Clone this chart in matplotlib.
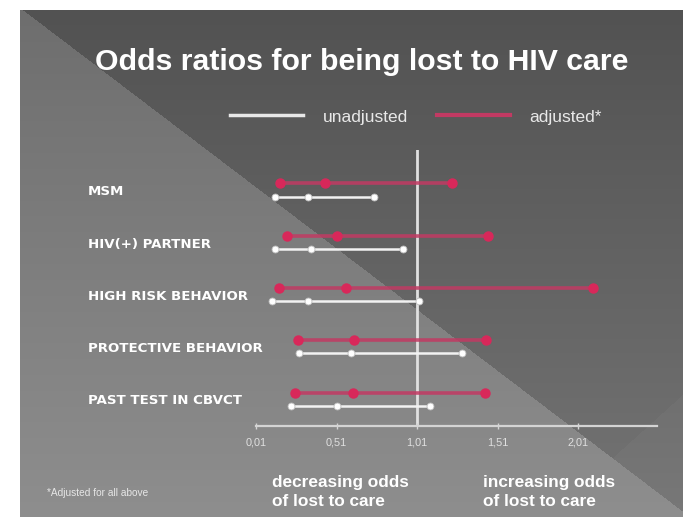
import numpy as np
import matplotlib.pyplot as plt
from matplotlib.lines import Line2D
from matplotlib.transforms import blended_transform_factory

plt.rcParams['font.family'] = ['Liberation Sans', 'DejaVu Sans']

# data
categories = ["MSM", "HIV(+) PARTNER", "HIGH RISK BEHAVIOR",
              "PROTECTIVE BEHAVIOR", "PAST TEST IN CBVCT"]
unadj_low = [0.13, 0.13, 0.11, 0.28, 0.23]
unadj_or = [0.33, 0.35, 0.33, 0.60, 0.51]
unadj_high = [0.74, 0.92, 1.02, 1.29, 1.09]
adj_low = [0.16, 0.20, 0.15, 0.27, 0.25]
adj_or = [0.44, 0.51, 0.57, 0.62, 0.61]
adj_high = [1.23, 1.45, 2.10, 1.44, 1.43]
xticks = [0.01, 0.51, 1.01, 1.51, 2.01]
xtick_labels = ["0,01", "0,51", "1,01", "1,51", "2,01"]

W, H = 683, 517
red_line = '#c23a63'
red_dot = '#d8285a'
white = '#f2f2f2'

fig = plt.figure(figsize=(W / 100, H / 100), dpi=100, facecolor='white')

# slide background: dark upper right, lighter lower left triangle, vertical gradient
bg = fig.add_axes([0, 0, 1, 1])
x0, y0 = 20, 10
xx, yy = np.meshgrid(np.arange(x0, W), np.arange(y0, H))
t = (yy - y0) / (H - y0)
val = 82 + 34 * t
light = yy > 10 + 0.76 * (xx - 23)
val = np.where(light, 110 + 32 * t, val)
corner = (yy - 394) > -(xx - 683) * 0.9
val = np.where(corner & ~light, val + 4, val)
img = np.stack([val, val, val], axis=-1) / 255.0
bg.imshow(img, extent=(x0, W, H, y0), aspect='auto', interpolation='bilinear')
bg.set_xlim(0, W)
bg.set_ylim(H, 0)
bg.axis('off')

bg.text(362, 62, "Odds ratios for being lost to HIV care", color='white',
        fontsize=21.8, fontweight='bold', ha='center', va='center')
bg.text(47, 493, "*Adjusted for all above", color='#e6e6e6', fontsize=7.3,
        ha='left', va='center')
for xpos, first in [(272, "decreasing odds"), (483, "increasing odds")]:
    bg.text(xpos, 482, first, color='white', fontsize=12.4,
            fontweight='bold', ha='left', va='center')
    bg.text(xpos, 502, "of lost to care", color='white', fontsize=12.4,
            fontweight='bold', ha='left', va='center')

# forest plot axes
ax = fig.add_axes([256 / W, (H - 426) / H, (657 - 256) / W, (426 - 150) / H])
ax.patch.set_alpha(0)
ax.set_xlim(0.01, 2.5)
ax.set_ylim(4.48, -0.80)
for s in ['top', 'right', 'left']:
    ax.spines[s].set_visible(False)
ax.spines['bottom'].set_color('#d4d4d4')
ax.spines['bottom'].set_linewidth(1.6)
ax.set_yticks([])
ax.set_xticks(xticks)
ax.set_xticklabels(xtick_labels)
ax.tick_params(axis='x', colors='#d4d4d4', labelcolor='#e0e0e0', labelsize=7.8,
               length=4, width=1, direction='inout', pad=6)

ax.axvline(1.01, color='#e0e0e0', lw=2, zorder=1)

rows = np.arange(len(categories))
adj_y = rows - 0.16
unadj_y = rows + 0.09

ax.hlines(adj_y, adj_low, adj_high, color=red_line, lw=2.6, alpha=0.85, zorder=2)
for vals in (adj_low, adj_or, adj_high):
    ax.plot(vals, adj_y, 'o', color=red_dot, ms=6.5, mec=red_dot, zorder=3)

ax.hlines(unadj_y, unadj_low, unadj_high, color=white, lw=1.8, zorder=2)
for vals in (unadj_low, unadj_or, unadj_high):
    ax.plot(vals, unadj_y, 'o', color='white', ms=5, mec='#bdbdbd', mew=0.6, zorder=3)

lab_tr = blended_transform_factory(bg.transData, ax.transData)
for i, name in enumerate(categories):
    ax.text(88, rows[i], name, transform=lab_tr, color='white', fontsize=9.6,
            fontweight='bold', family='DejaVu Sans', ha='left', va='center')

handles = [Line2D([], [], color='#e8e8e8', lw=2.5),
           Line2D([], [], color=red_line, lw=3)]
fig.legend(handles, ["unadjusted", "adjusted*"], ncol=2, frameon=False,
           loc='center', bbox_to_anchor=(416 / W, 1 - 117 / H),
           fontsize=12.5, labelcolor='#e8e8e8', handlelength=4.2,
           handletextpad=1.15, columnspacing=1.65)

fig.savefig("out.png", dpi=100, facecolor='white')
